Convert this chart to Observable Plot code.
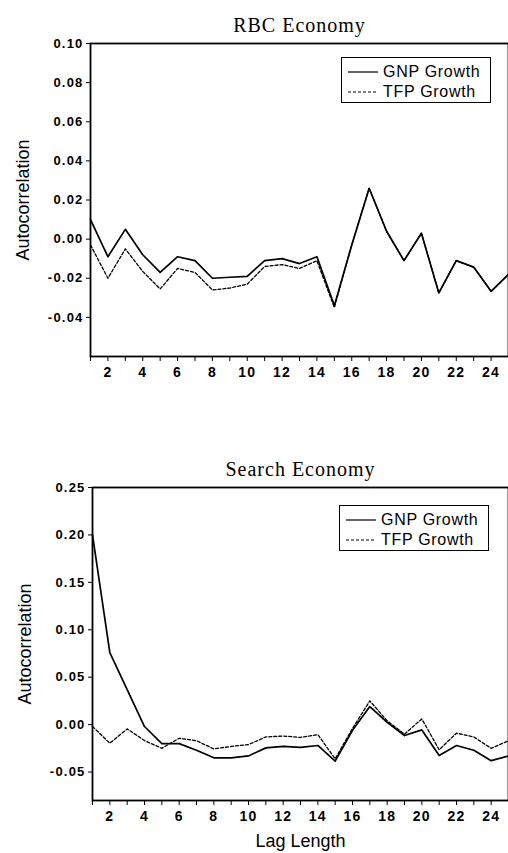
<!DOCTYPE html>
<html>
<head>
<meta charset="utf-8">
<script src="https://cdn.jsdelivr.net/npm/d3@7"></script>
<script src="https://cdn.jsdelivr.net/npm/@observablehq/plot@0.6"></script>
<style>
  html, body { margin: 0; padding: 0; background: #fff; }
  #wrap { position: relative; width: 508px; height: 853px; overflow: hidden; }
  #wrap svg { display: block; }
  .legend { position: absolute; border: 1.5px solid #000; background: #fff;
    font-family: "Liberation Sans", Arial, sans-serif; font-size: 16px; letter-spacing: 0.7px; color: #000;
    box-sizing: border-box; padding: 4px 0 0 6px; }
  .legend .row { display: flex; align-items: center; height: 20px; }
  .legend svg { display: inline-block; margin-right: 5px; }
</style>
</head>
<body>
<div id="wrap"></div>
<script>
const lags = d3.range(1, 26);

// RBC Economy
const rbcGNP = [0.010, -0.009, 0.005, -0.008, -0.017, -0.009, -0.011, -0.020, -0.0195, -0.019,
  -0.011, -0.010, -0.0125, -0.009, -0.034, -0.003, 0.026, 0.004, -0.011, 0.003,
  -0.0275, -0.011, -0.0143, -0.0267, -0.018];
const rbcTFP = [-0.003, -0.020, -0.005, -0.0165, -0.0255, -0.015, -0.017, -0.026, -0.025, -0.023,
  -0.014, -0.013, -0.015, -0.011, -0.035, -0.003, 0.026, 0.004, -0.011, 0.003,
  -0.0275, -0.011, -0.0143, -0.0267, -0.018];

// Search Economy
const searchGNP = [0.200, 0.076, 0.037, -0.002, -0.020, -0.020, -0.027, -0.035, -0.035, -0.033,
  -0.0245, -0.023, -0.024, -0.022, -0.0385, -0.006, 0.019, 0.0025, -0.0115, -0.0056,
  -0.0325, -0.022, -0.027, -0.038, -0.033];
const searchTFP = [-0.002, -0.0196, -0.0045, -0.0168, -0.025, -0.0144, -0.017, -0.0256, -0.023, -0.021,
  -0.013, -0.012, -0.0135, -0.0105, -0.036, -0.004, 0.025, 0.004, -0.010, 0.006,
  -0.0265, -0.009, -0.013, -0.025, -0.017];

const rbcTicks = [-0.04, -0.02, 0.00, 0.02, 0.04, 0.06, 0.08, 0.10];
const searchTicks = [-0.05, 0.00, 0.05, 0.10, 0.15, 0.20, 0.25];
const xTickLabels = [2, 4, 6, 8, 10, 12, 14, 16, 18, 20, 22, 24];
const seriesNames = ["GNP Growth", "TFP Growth"];
const titles = ["RBC Economy", "Search Economy"];

function rows(gnp, tfp) {
  return [
    ...lags.map((l, i) => ({lag: l, v: gnp[i], s: seriesNames[0]})),
    ...lags.map((l, i) => ({lag: l, v: tfp[i], s: seriesNames[1]}))
  ];
}
const fmt = d => d.toFixed(2);

function panel({data, domain, ticks, title, height, mt, mb, ml, xLabel}) {
  const sans = "Liberation Sans, Arial, sans-serif";
  const marks = [
    Plot.axisY({ticks, tickFormat: fmt, tickSize: 4, tickPadding: 3, fontSize: 13, label: null,
      fontFamily: sans, fontWeight: "bold"}),
    Plot.axisX({ticks: lags, tickFormat: d => xTickLabels.includes(d) ? String(d) : "", tickSize: 5,
      tickPadding: 6, fontSize: 14, label: null, fontWeight: "bold"}),
    Plot.line(data.filter(d => d.s === seriesNames[1]), {x: "lag", y: "v", stroke: "#000", strokeWidth: 1.3, strokeDasharray: "3,2"}),
    Plot.line(data.filter(d => d.s === seriesNames[0]), {x: "lag", y: "v", stroke: "#000", strokeWidth: 1.7}),
    Plot.frame({stroke: "#000", strokeWidth: 1.8}),
    Plot.text([title], {frameAnchor: "top", dy: -26, fontSize: 20, fontFamily: "Liberation Serif, Times New Roman, serif",
      fill: "#000", textAnchor: "middle"}),
    Plot.text(["Autocorrelation"], {frameAnchor: "left", rotate: -90, dx: -67, fontSize: 18, fontFamily: sans,
      fill: "#000", textAnchor: "middle"})
  ];
  if (xLabel) marks.push(Plot.text([xLabel], {frameAnchor: "bottom", dy: 46, fontSize: 18, fontFamily: sans,
    fill: "#000", textAnchor: "middle"}));
  const svg = Plot.plot({
    width: 508, height, marginTop: mt, marginBottom: mb, marginLeft: ml, marginRight: 0,
    style: {fontFamily: sans, color: "#000", background: "#fff", overflow: "visible"},
    x: {domain: [1, 25]},
    y: {domain},
    marks
  });
  const s = d3.select(svg);
  s.selectAll('[aria-label="y-axis tick label"], [aria-label="y-axis tick label"] text')
    .style("font-size", "13px").style("letter-spacing", "1.2px");
  s.selectAll('[aria-label="x-axis tick label"], [aria-label="x-axis tick label"] text')
    .style("font-size", "14px").style("letter-spacing", "1.2px");
  s.selectAll('text').filter(function() { return titles.includes(this.textContent); }).style("letter-spacing", "1px");
  return svg;
}

const wrap = document.getElementById("wrap");
wrap.appendChild(panel({data: rows(rbcGNP, rbcTFP), domain: [-0.06, 0.10], ticks: rbcTicks,
  title: titles[0], height: 430, mt: 43, mb: 74, ml: 90}));
wrap.appendChild(panel({data: rows(searchGNP, searchTFP), domain: [-0.08, 0.25], ticks: searchTicks,
  title: titles[1], height: 423, mt: 57, mb: 53, ml: 92, xLabel: "Lag Length"}));

function legend(left, top) {
  const div = document.createElement("div");
  div.className = "legend";
  Object.assign(div.style, {left: left + "px", top: top + "px", width: "150px", height: "46px"});
  seriesNames.forEach((name, i) => {
    const row = document.createElement("div");
    row.className = "row";
    row.innerHTML = `<svg width="30" height="4"><line x1="0" x2="30" y1="2" y2="2" stroke="#000" stroke-width="1.2" ${i ? 'stroke-dasharray="3,2"' : ''}/></svg><span>${name}</span>`;
    div.appendChild(row);
  });
  wrap.appendChild(div);
}
legend(341, 57);
legend(339, 505);
</script>
</body>
</html>
